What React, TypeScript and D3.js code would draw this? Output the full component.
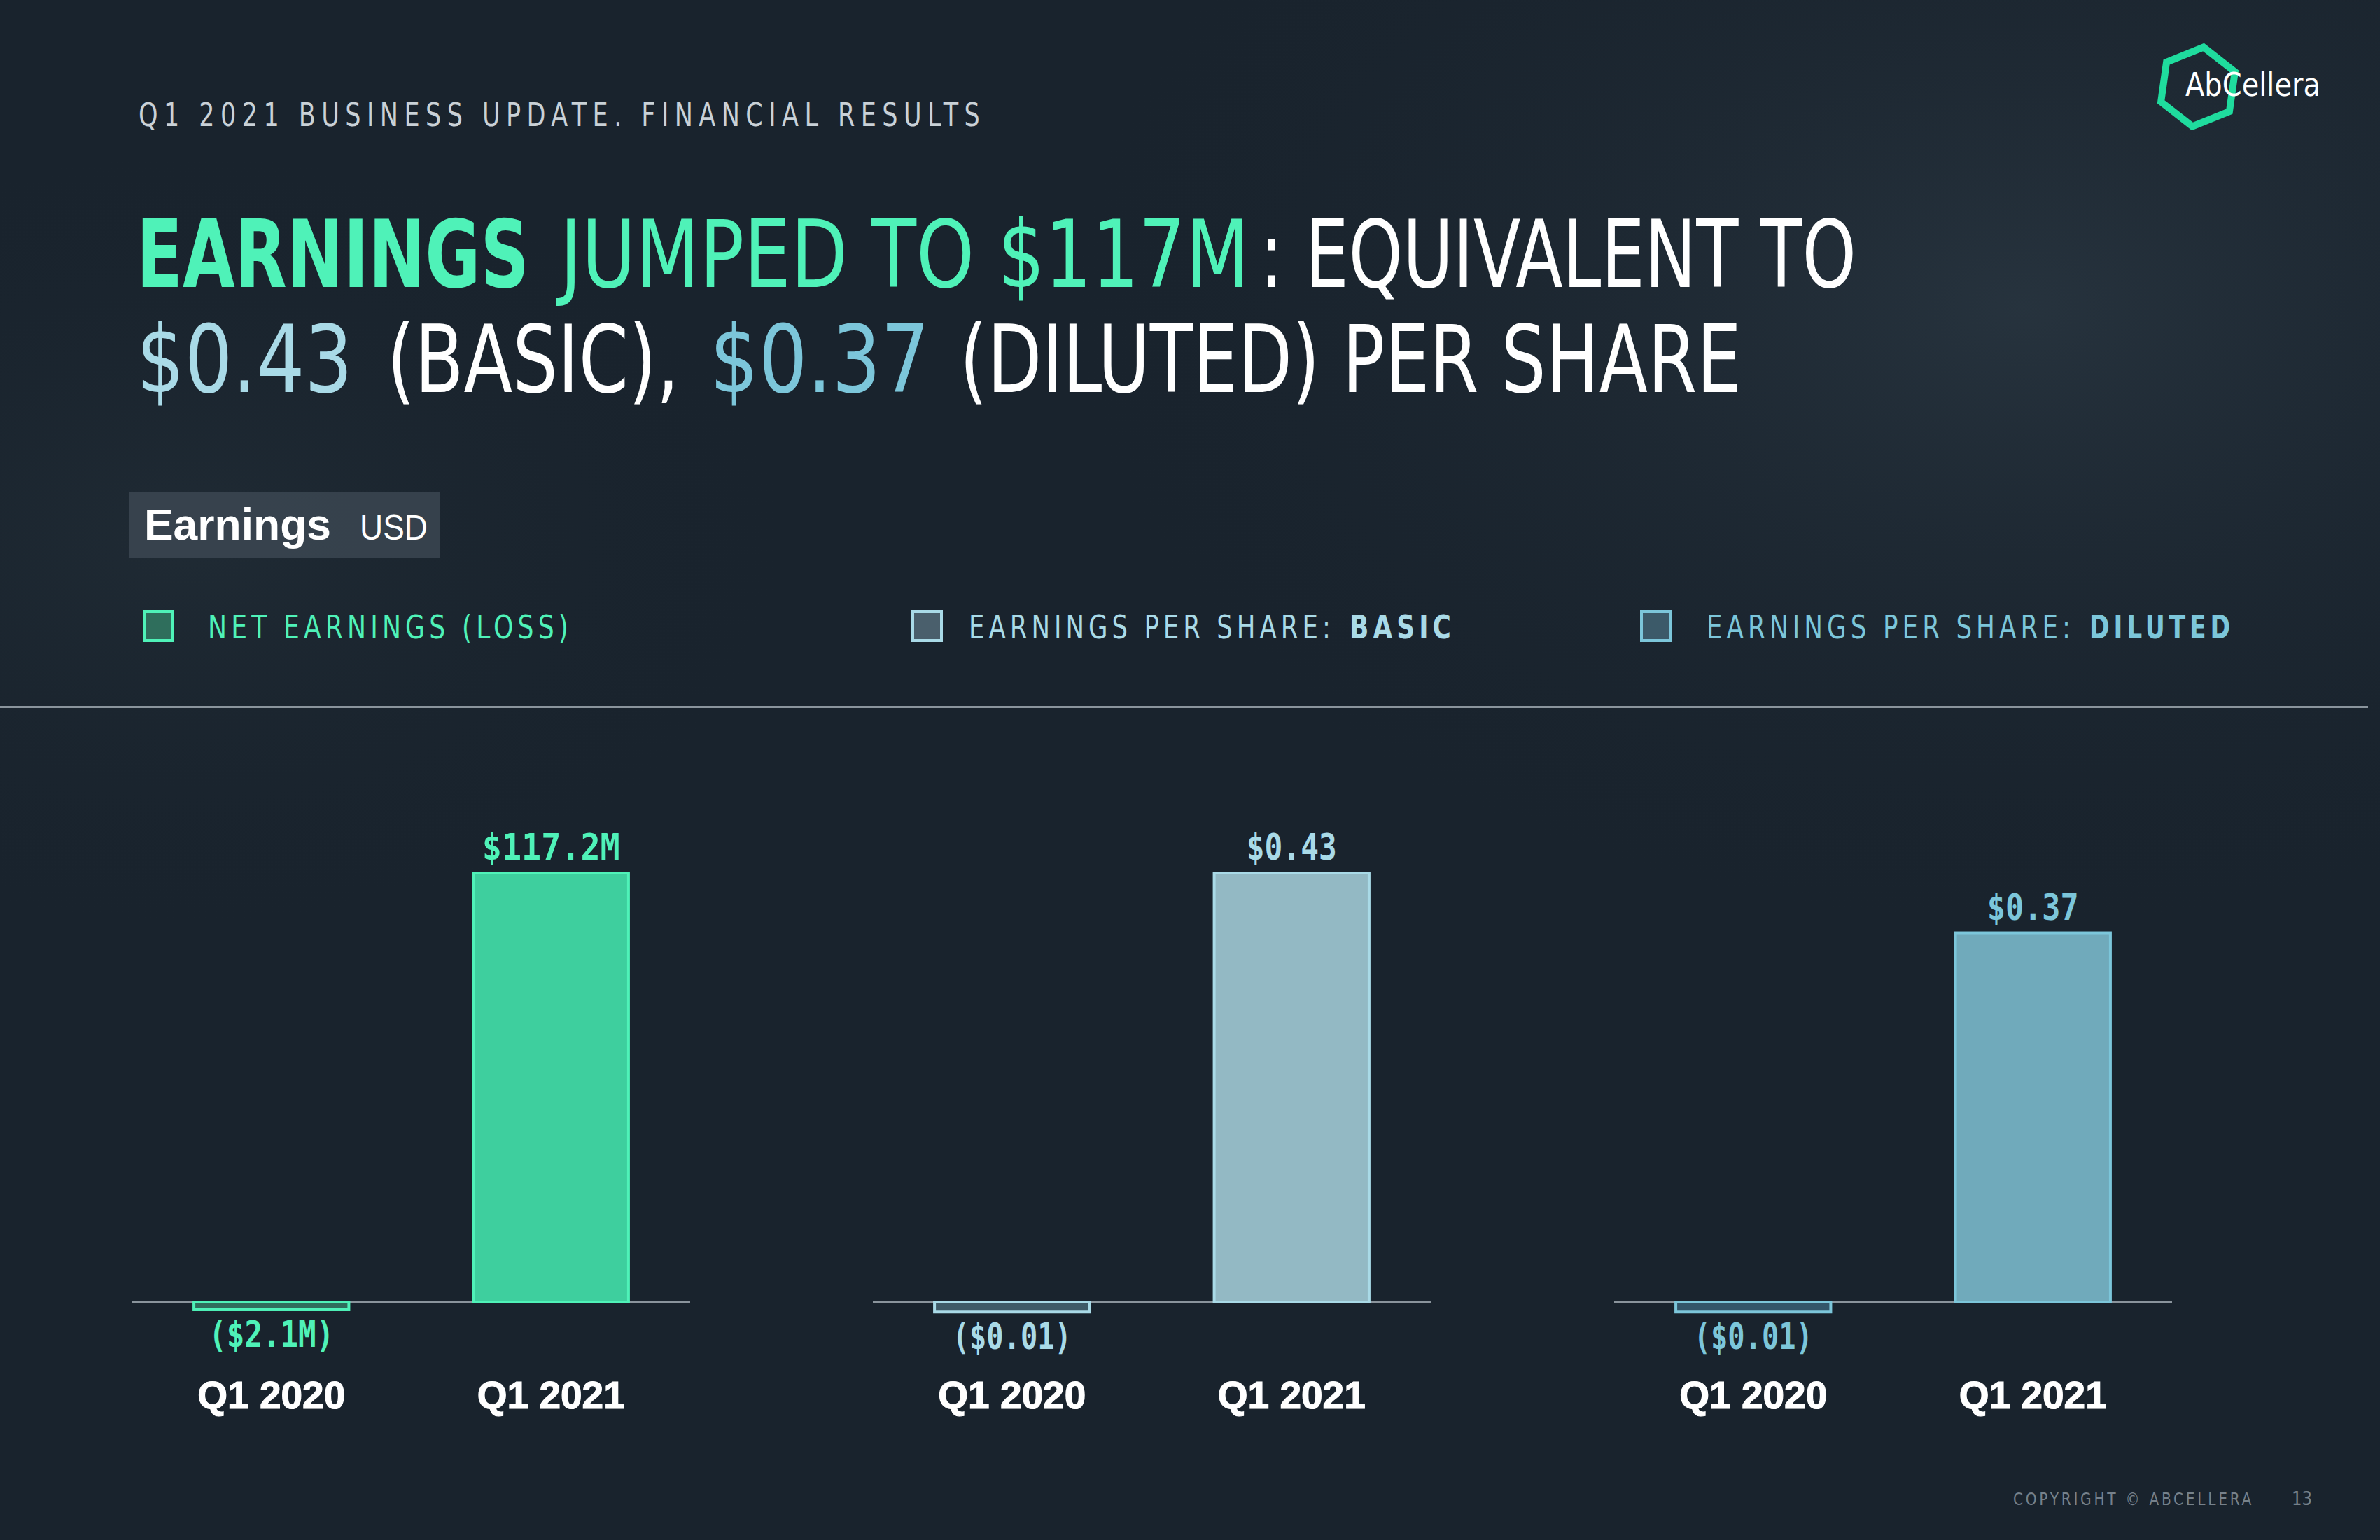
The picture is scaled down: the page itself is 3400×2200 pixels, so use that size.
import React, { useLayoutEffect, useRef, useState } from 'react';
import * as d3 from 'd3';

// ---------- DATA ----------
const categories = ['Q1 2020', 'Q1 2021'];
const netEarnings = [-2.1, 117.2]; // USD millions
const epsBasic = [-0.01, 0.43];
const epsDiluted = [-0.01, 0.37];
const netEarningsLabels = ['($2.1M)', '$117.2M'];
const epsBasicLabels = ['($0.01)', '$0.43'];
const epsDilutedLabels = ['($0.01)', '$0.37'];
const legendNames = ['NET EARNINGS (LOSS)', 'EARNINGS PER SHARE:', 'EARNINGS PER SHARE:'];
const legendBold = ['', 'BASIC', 'DILUTED'];

// ---------- STYLE ----------
const W = 3400;
const H = 2200;
const COND = "'DejaVu Sans Condensed', 'Liberation Sans Narrow', 'DejaVu Sans', sans-serif";
const MONO = "'DejaVu Sans Mono', 'Liberation Mono', monospace";
const SANS = "'Liberation Sans', Arial, sans-serif";
const GREEN = '#4ff2b8';
const BLUE1 = '#a9dae7';
const BLUE2 = '#7cc6da';

const panels = [
  { values: netEarnings, labels: netEarningsLabels, max: 117.2, x0: 189, fill: '#3ecf9e', negFill: '#2f6e5c', stroke: GREEN, text: GREEN, labelLen: [179, 197] },
  { values: epsBasic, labels: epsBasicLabels, max: 0.43, x0: 1247, fill: '#93b9c4', negFill: '#3f5b68', stroke: BLUE1, text: BLUE1, labelLen: [170, 129] },
  { values: epsDiluted, labels: epsDilutedLabels, max: 0.43, x0: 2306, fill: '#70aabb', negFill: '#33566a', stroke: BLUE2, text: BLUE2, labelLen: [170, 131] },
];

const legendItems = [
  { sq: 204, tx: 297, tw: 514, bx: 0, bw: 0, color: GREEN, fill: '#2f6e5c' },
  { sq: 1302, tx: 1384, tw: 516, bx: 1928, bw: 144, color: BLUE1, fill: '#4a5f6c' },
  { sq: 2343, tx: 2438, tw: 519, bx: 2985, bw: 200, color: BLUE2, fill: '#3c5a69' },
];

const PANEL_W = 797;
const BASE = 1860;
const TOP = 1247;

// Text squeezed horizontally (condensed look) to a target width
function FitText(props: any) {
  const { x, y, width, anchor = 'start', children, ...rest } = props;
  const ref = useRef<SVGTextElement>(null);
  const [s, setS] = useState(1);
  useLayoutEffect(() => {
    const measure = () => {
      if (!ref.current) return;
      const len = ref.current.getComputedTextLength();
      if (len > 0) setS(width / len);
    };
    measure();
    const f = (document as any).fonts;
    if (f && f.ready) f.ready.then(measure);
  }, [width, children]);
  return (
    <text ref={ref} transform={`translate(${x},${y}) scale(${s},1)`} textAnchor={anchor} {...rest}>
      {children}
    </text>
  );
}

function Panel({ p }: { p: typeof panels[number] }) {
  const x = d3.scaleBand<string>().domain(categories).range([p.x0, p.x0 + PANEL_W]).paddingInner(0.436).paddingOuter(0.2155);
  const y = d3.scaleLinear().domain([0, p.max]).range([BASE, TOP]);
  return (
    <g>
      <line x1={p.x0} x2={p.x0 + PANEL_W} y1={y(0)} y2={y(0)} stroke="#8a949c" strokeWidth={2} />
      {categories.map((c, i) => {
        const v = p.values[i];
        const y0 = y(0);
        const yv = y(v);
        const top = Math.min(y0, yv);
        const h = Math.abs(yv - y0);
        const cx = (x(c) as number) + x.bandwidth() / 2;
        return (
          <g key={c}>
            <rect x={(x(c) as number) + 2} y={top} width={x.bandwidth() - 4} height={Math.max(h, 4)}
              fill={v < 0 ? p.negFill : p.fill} stroke={p.stroke} strokeWidth={4} />
            <FitText x={cx} y={v < 0 ? yv + 53 : yv - 19} anchor="middle" width={p.labelLen[i]} fill={p.text}
              fontFamily={MONO} fontWeight="bold" fontSize={52}>{p.labels[i]}</FitText>
            <text x={cx} y={2012} textAnchor="middle" fill="#ffffff" stroke="#ffffff" strokeWidth={1.2}
              fontFamily={SANS} fontWeight="bold" fontSize={55}>{c}</text>
          </g>
        );
      })}
    </g>
  );
}

function hexPath(cx: number, cy: number, r: number, rotDeg: number) {
  const pts: [number, number][] = d3.range(6).map((k) => {
    const a = ((rotDeg - 90 + k * 60) * Math.PI) / 180;
    return [cx + r * Math.cos(a), cy + r * Math.sin(a)];
  });
  return d3.line()(pts) + 'Z';
}

export default function App() {
  return (
    <svg width={W} height={H} viewBox={`0 0 ${W} ${H}`} style={{ position: 'absolute', left: 0, top: 0 }}>
      <defs>
        <radialGradient id="glow1" cx="0.85" cy="0.2" r="0.4">
          <stop offset="0%" stopColor="#2a3742" stopOpacity={0.8} />
          <stop offset="100%" stopColor="#1a242e" stopOpacity={0} />
        </radialGradient>
        <radialGradient id="glow2" cx="0.08" cy="0.35" r="0.25">
          <stop offset="0%" stopColor="#243039" stopOpacity={0.6} />
          <stop offset="100%" stopColor="#1a242e" stopOpacity={0} />
        </radialGradient>
      </defs>
      <rect x={0} y={0} width={W} height={H} fill="#19232d" />
      <rect x={0} y={0} width={W} height={H} fill="url(#glow1)" />
      <rect x={0} y={0} width={W} height={H} fill="url(#glow2)" />

      {/* logo */}
      <path d={hexPath(3140, 124, 57, 8)} fill="none" stroke="#1fdc9e" strokeWidth={10} strokeLinejoin="miter" />
      <FitText x={3122} y={137} width={193} fill="#ffffff" fontFamily={COND} fontSize={46}>AbCellera</FitText>

      {/* subtitle */}
      <FitText x={198} y={180} width={1210} fill="#c9d1d7" fontFamily={COND} fontSize={46} letterSpacing={10}>
        Q1 2021 BUSINESS UPDATE. FINANCIAL RESULTS
      </FitText>

      {/* headline */}
      <g fontFamily={COND} fontSize={134}>
        <FitText x={195} y={410} width={561} fill={GREEN} fontWeight="bold">EARNINGS</FitText>
        <FitText x={800} y={410} width={985} fill={GREEN}>JUMPED TO $117M</FitText>
        <FitText x={1800} y={410} width={852} fill="#ffffff">: EQUIVALENT TO</FitText>
        <FitText x={195} y={560} width={309} fill={BLUE1}>$0.43</FitText>
        <FitText x={553} y={560} width={417} fill="#ffffff">(BASIC),</FitText>
        <FitText x={1014} y={560} width={314} fill={BLUE2}>$0.37</FitText>
        <FitText x={1371} y={560} width={1117} fill="#ffffff">(DILUTED) PER SHARE</FitText>
      </g>

      {/* badge */}
      <rect x={185} y={703} width={443} height={94} fill="#3a4550" opacity={0.9} />
      <FitText x={206} y={771} width={267} fill="#ffffff" fontFamily={SANS} fontWeight="bold" fontSize={63}>Earnings</FitText>
      <FitText x={514} y={771} width={97} fill="#ffffff" fontFamily={SANS} fontSize={50}>USD</FitText>

      {/* legend */}
      {legendItems.map((l, i) => (
        <g key={i}>
          <rect x={l.sq + 2} y={874} width={41} height={41} fill={l.fill} stroke={l.color} strokeWidth={4} />
          <FitText x={l.tx} y={912} width={l.tw + 7} fill={l.color} fontFamily={COND} fontSize={46} letterSpacing={7}>
            {legendNames[i]}
          </FitText>
          {legendBold[i] ? (
            <FitText x={l.bx} y={912} width={l.bw + 7} fill={l.color} fontFamily={COND} fontWeight="bold" fontSize={46} letterSpacing={7}>
              {legendBold[i]}
            </FitText>
          ) : null}
        </g>
      ))}

      {/* separator */}
      <line x1={0} x2={3383} y1={1010} y2={1010} stroke="#8a949c" strokeWidth={2} />

      {panels.map((p, i) => <Panel key={i} p={p} />)}

      {/* footer */}
      <FitText x={2876} y={2150} width={344} fill="#76818b" fontFamily={COND} fontSize={24} letterSpacing={4}>COPYRIGHT © ABCELLERA</FitText>
      <FitText x={3274} y={2150} width={29} fill="#76818b" fontFamily={COND} fontSize={26}>13</FitText>
    </svg>
  );
}
